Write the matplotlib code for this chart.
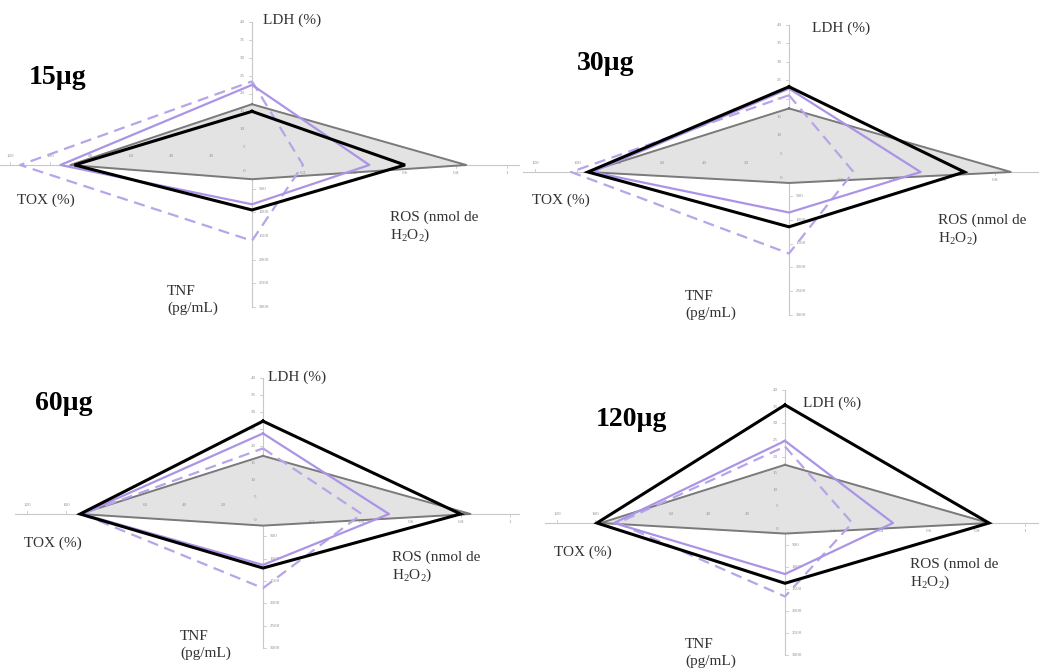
import matplotlib as mpl
mpl.use('Agg')
import matplotlib.pyplot as plt

plt.rcParams['mathtext.fontset'] = 'custom'
plt.rcParams['mathtext.rm'] = 'Liberation Serif'

# panel titles
doses = ["15µg", "30µg", "60µg", "120µg"]

# axis ticks: LDH (%), ROS (nmol de H2O2), TNF (pg/mL), TOX (%)
ldh_ticks = [0, 5, 10, 15, 20, 25, 30, 35, 40]
ros_ticks = [0.2, 0.4, 0.6, 0.8, 1]
tnf_ticks = [500, 1000, 1500, 2000, 2500, 3000]
tox_ticks = [20, 40, 60, 80, 100, 120]

# values per panel (15, 30, 60, 120 µg)
gray_ldh = [17, 17.3, 17.1, 17.5]
gray_ros = [0.84, 0.86, 0.84, 0.85]
gray_tnf = [300, 230, 260, 240]
gray_tox = [90, 95, 93, 97]

black_ldh = [15, 23.2, 27.3, 35.5]
black_ros = [0.6, 0.68, 0.80, 0.85]
black_tnf = [950, 1150, 1210, 1370]
black_tox = [88, 95, 93, 99]

purple_ldh = [22.4, 22.7, 23.7, 24.7]
purple_ros = [0.46, 0.51, 0.51, 0.45]
purple_tnf = [830, 850, 1140, 1160]
purple_tox = [95, 93, 92, 90]

dash_ldh = [23.4, 20.9, 19.3, 23]
dash_ros = [0.2, 0.25, 0.40, 0.28]
dash_tnf = [1600, 1710, 1660, 1670]
dash_tox = [115, 103, 92, 88]


def draw_panel(fig, quad, origin, ext, offs, title, series):
    qx, qy = quad
    ox, oy = origin
    L, R, U, D = ext
    ax = fig.add_axes([qx / 1039, 1 - (qy + 335) / 670, 519.5 / 1039, 335 / 670])
    ax.set_xlim(qx - ox, qx + 519.5 - ox)
    ax.set_ylim(oy - qy - 335, oy - qy)
    ax.axis('off')

    def pt(ldh, ros, tnf, tox):
        xs = [0, ros / ros_ticks[-1] * R, 0, -tox / tox_ticks[-1] * L, 0]
        ys = [ldh / ldh_ticks[-1] * U, 0, -tnf / tnf_ticks[-1] * D, 0, ldh / ldh_ticks[-1] * U]
        return xs, ys

    axc = '#c8c8c8'
    ax.plot([-L - 12, R + 20], [0, 0], color=axc, lw=0.8, zorder=1)
    ax.plot([0, 0], [U, -D], color=axc, lw=0.8, zorder=1)
    tk = dict(fontsize=3.6, color='#909090', family='Liberation Serif')
    for v in ldh_ticks:
        y = v / ldh_ticks[-1] * U
        ax.plot([-3, 0], [y, y], color=axc, lw=0.6)
        ax.text(-7, y - (6 if v == 0 else 0), str(v), ha='right', va='center', **tk)
    for v in tnf_ticks:
        y = -v / tnf_ticks[-1] * D
        ax.plot([0, 3], [y, y], color=axc, lw=0.6)
        ax.text(7, y, str(v), ha='left', va='center', **tk)
    for v in tox_ticks:
        x = -v / tox_ticks[-1] * L
        ax.plot([x, x], [0, 3], color=axc, lw=0.6)
        ax.text(x, 7, str(v), ha='center', va='bottom', **tk)
    for v in ros_ticks:
        x = v / ros_ticks[-1] * R
        if ox + x > qx + 512:
            continue
        ax.plot([x, x], [0, -3], color=axc, lw=0.6)
        ax.text(x, -6, str(v), ha='center', va='top', **tk)

    (gl, gr, gt, gx), (bl, br, bt, bx), (pl, pr, pn, px), (dl, dr, dn, dx) = series
    xs, ys = pt(gl, gr, gt, gx)
    ax.fill(xs, ys, color='#e3e3e3', zorder=2)
    ax.plot(xs, ys, color='#7a7a7a', lw=1.4, zorder=3)
    xs, ys = pt(dl, dr, dn, dx)
    ax.plot(xs, ys, color='#b8a4e8', lw=1.6, ls=(0, (5, 3)), zorder=4)
    xs, ys = pt(pl, pr, pn, px)
    ax.plot(xs, ys, color='#ab94e6', lw=1.6, zorder=5)
    xs, ys = pt(bl, br, bt, bx)
    ax.plot(xs, ys, color='black', lw=2.2, zorder=6, solid_joinstyle='miter')

    lab = dict(fontsize=11, color='#333333', family='Liberation Serif')
    t, ld, tx, rs, tn = offs
    ax.text(t[0], -t[1], title, ha='center', va='center', fontsize=20,
            fontweight='bold', family='Liberation Serif', color='black')
    ax.text(ld[0], -ld[1], "LDH (%)", ha='left', va='center', **lab)
    ax.text(tx[0], -tx[1], "TOX (%)", ha='center', va='center', **lab)
    ax.text(rs[0], -rs[1], "ROS (nmol de\nH$_2$O$_2$)", ha='left', va='center',
            linespacing=1.25, **lab)
    ax.text(tn[0], -tn[1], "TNF\n(pg/mL)", ha='left', va='center', linespacing=1.25, **lab)


fig = plt.figure(figsize=(10.39, 6.70), dpi=100)

quads = [(0, 0), (519.5, 0), (0, 335), (519.5, 335)]
origins = [(252, 165), (789, 172), (263, 514), (785, 523)]
extents = [(242, 255, 143, 142), (254, 258, 147, 143), (236, 247, 136, 134), (228, 240, 133, 132)]
offsets = [
    [(-194, -87), (11, -145), (-206, 35), (138, 62), (-85, 135)],
    [(-183, -109), (23, -144), (-228, 28), (149, 58), (-104, 133)],
    [(-199, -111), (5, -137), (-210, 29), (129, 53), (-83, 131)],
    [(-154, -103), (18, -120), (-202, 29), (125, 51), (-100, 130)],
]

for i in range(4):
    series = [
        (gray_ldh[i], gray_ros[i], gray_tnf[i], gray_tox[i]),
        (black_ldh[i], black_ros[i], black_tnf[i], black_tox[i]),
        (purple_ldh[i], purple_ros[i], purple_tnf[i], purple_tox[i]),
        (dash_ldh[i], dash_ros[i], dash_tnf[i], dash_tox[i]),
    ]
    draw_panel(fig, quads[i], origins[i], extents[i], offsets[i], doses[i], series)

fig.savefig("out.png", dpi=100)
